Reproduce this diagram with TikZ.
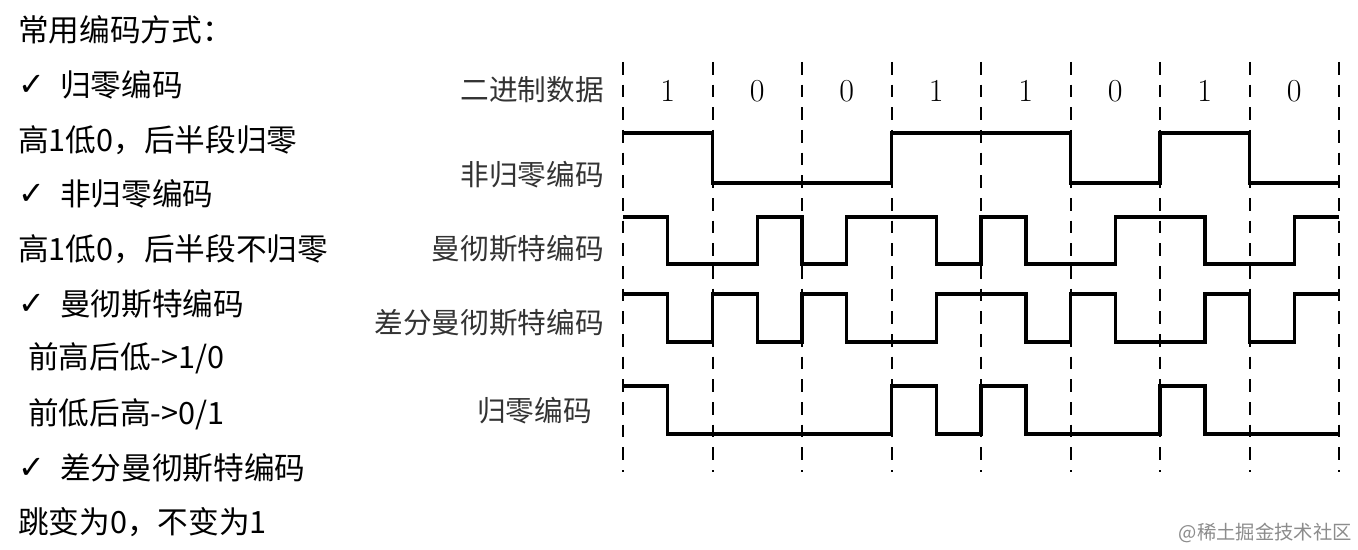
\documentclass[tikz,border=0pt]{standalone}
\usepackage{fontspec}
\usepackage{tikz}
\newfontfamily\cjk{Noto Sans CJK SC}
\newfontfamily\symb{DejaVu Sans}
\usetikzlibrary{positioning}

\begin{document}
\begin{tikzpicture}[x=0.75pt, y=-0.75pt,
  wave/.style={line width=2.6pt, line join=miter},
  bitsep/.style={line width=1.5pt, dash pattern=on 9.5pt off 7.5pt},
  note/.style={anchor=west, inner sep=0pt, font=\cjk\fontsize{23}{24}\selectfont},
  tick/.style={anchor=west, inner sep=0pt, font=\symb\fontsize{24}{26}\selectfont},
  lab/.style={anchor=east, inner sep=0pt, text=black!80, font=\cjk\fontsize{21.5}{24}\selectfont},
  bit/.style={inner sep=0pt, font=\fontsize{24}{26}\selectfont}]
\useasboundingbox (0,0) rectangle (1358,549);
\fill[white] (0,0) rectangle (1358,549);
% left: list of codes
\node[note] (head) at (18,30) {常用编码方式：};
\node[tick] (ck1) at (18,85) {✓};
\node[note] (rz) at (60,85) {归零编码};
\node[note] (rztxt) at (18,140) {高1低0，后半段归零};
\node[tick] (ck2) at (18,194) {✓};
\node[note] (nrz) at (60,194) {非归零编码};
\node[note] (nrztxt) at (18,249) {高1低0，后半段不归零};
\node[tick] (ck3) at (18,304) {✓};
\node[note] (man) at (60,304) {曼彻斯特编码};
\node[note] (mantxta) at (28,358) {前高后低->1/0};
\node[note] (mantxtb) at (28,414) {前低后高->0/1};
\node[tick] (ck4) at (18,468) {✓};
\node[note] (dif) at (60,468) {差分曼彻斯特编码};
\node[note] (diftxt) at (18,522) {跳变为0，不变为1};
% right: row labels
\node[lab] (lbin) at (604,90) {二进制数据};
\node[lab] (lnrz) at (604,175) {非归零编码};
\node[lab] (lman) at (604,249) {曼彻斯特编码};
\node[lab] (ldif) at (604,323) {差分曼彻斯特编码};
\node[lab] (lrz) at (592,411) {归零编码};
% bit cells
\foreach \i in {0,...,8}
  \draw[bitsep] ({623+89.5*\i},62) -- ({623+89.5*\i},472);
\foreach \b [count=\i] in {1,0,0,1,1,0,1,0}
  \node[bit] (bit\i) at ({623+89.5*(\i-0.5)},91) {\b};
% waveforms, one bit = one unit
\begin{scope}[shift={(623,0)}, xscale=89.5]
% non return to zero
\draw[wave] (0,133) -- (1,133) -- (1,183) -- (3,183) -- (3,133) -- (5,133) -- (5,183)
  -- (6,183) -- (6,133) -- (7,133) -- (7,183) -- (8,183);
% manchester
\draw[wave] (0,217) -- (0.5,217) -- (0.5,264) -- (1.5,264) -- (1.5,217) -- (2,217) -- (2,264)
  -- (2.5,264) -- (2.5,217) -- (3.5,217) -- (3.5,264) -- (4,264) -- (4,217) -- (4.5,217)
  -- (4.5,264) -- (5.5,264) -- (5.5,217) -- (6.5,217) -- (6.5,264) -- (7.5,264) -- (7.5,217) -- (8,217);
% differential manchester
\draw[wave] (0,294) -- (0.5,294) -- (0.5,342) -- (1,342) -- (1,294) -- (1.5,294) -- (1.5,342)
  -- (2,342) -- (2,294) -- (2.5,294) -- (2.5,342) -- (3.5,342) -- (3.5,294) -- (4.5,294)
  -- (4.5,342) -- (5,342) -- (5,294) -- (5.5,294) -- (5.5,342) -- (6.5,342) -- (6.5,294)
  -- (7,294) -- (7,342) -- (7.5,342) -- (7.5,294) -- (8,294);
% return to zero
\draw[wave] (0,386) -- (0.5,386) -- (0.5,434) -- (3,434) -- (3,386) -- (3.5,386) -- (3.5,434)
  -- (4,434) -- (4,386) -- (4.5,386) -- (4.5,434) -- (6,434) -- (6,386) -- (6.5,386)
  -- (6.5,434) -- (8,434);
\end{scope}
\node[anchor=east, inner sep=0pt, text=black!45, font=\cjk\fontsize{14.5}{16}\selectfont] (mark) at (1352,533) {@稀土掘金技术社区};
\end{tikzpicture}
\end{document}
